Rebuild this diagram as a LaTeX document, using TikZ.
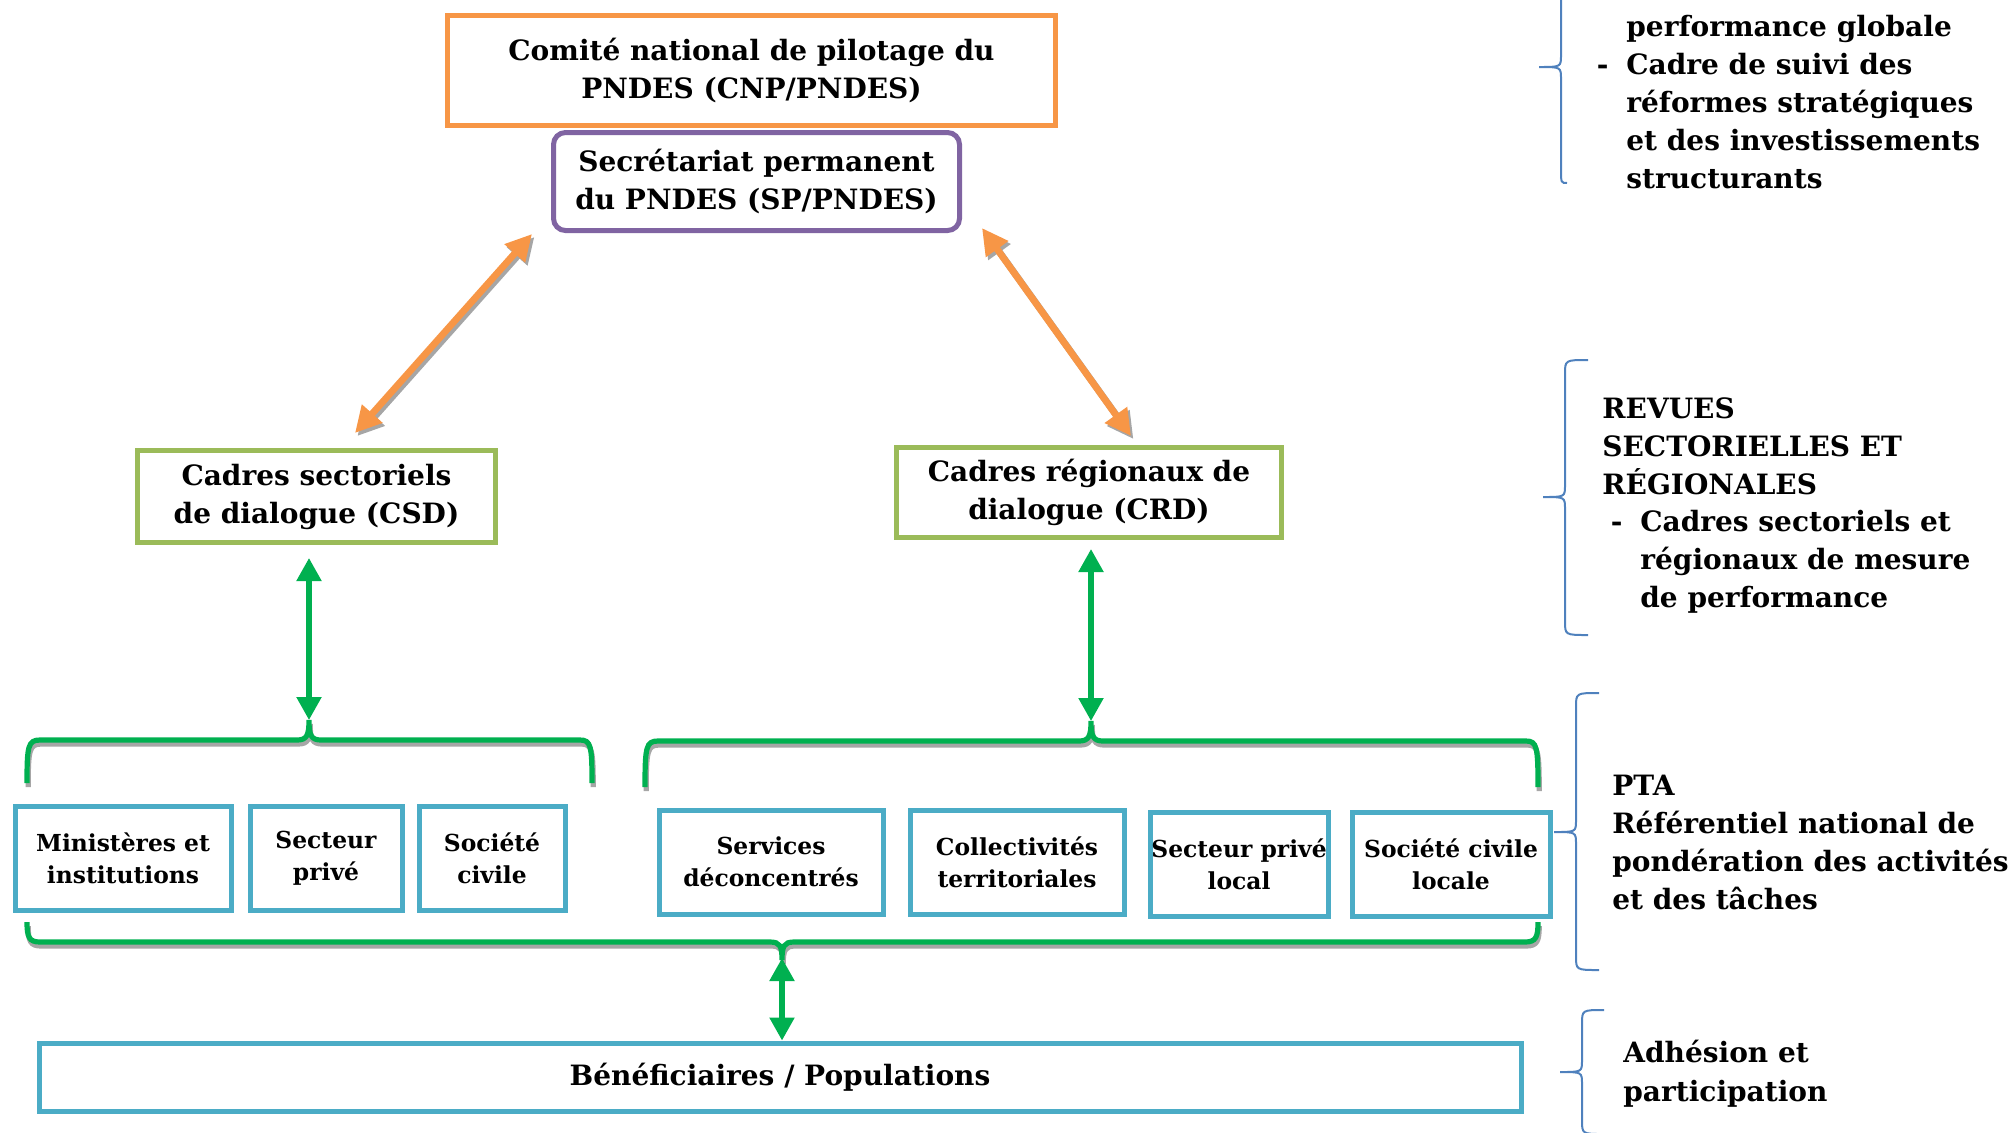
\documentclass[tikz,border=0pt]{standalone}
\usepackage{fontspec}
\setmainfont{DejaVu Serif}
\usetikzlibrary{arrows.meta,calc}
\definecolor{orng}{HTML}{F79646}
\definecolor{purp}{HTML}{8064A2}
\definecolor{lgrn}{HTML}{9BBB59}
\definecolor{bbox}{HTML}{4BACC6}
\definecolor{grn}{HTML}{00B050}
\definecolor{brc}{HTML}{4F81BD}
\definecolor{shd}{HTML}{A6A6A6}
\newcommand{\rbrc}[6]{%
  \draw[bluebrace] (#1,#4) .. controls (#2,#4) .. (#2,#4+14) -- (#2,#5-12)
    .. controls (#2,#5) .. (#3,#5) .. controls (#2,#5) .. (#2,#5+12)
    -- (#2,#6-14) .. controls (#2,#6) .. (#1,#6);}
\begin{document}
\begin{tikzpicture}[x=0.5pt,y=-0.5pt,
  box/.style={draw,line width=2.5pt,align=center,inner sep=0pt,
    font=\bfseries\fontsize{14}{19}\selectfont},
  smallbox/.style={box,draw=bbox,minimum height=52pt,
    font=\bfseries\fontsize{11.7}{16}\selectfont},
  rtext/.style={anchor=base west,inner sep=0pt,
    font=\bfseries\fontsize{14}{19}\selectfont},
  oarrow/.style={line width=3.4pt,orng,
    {Triangle[length=13pt,width=13pt]}-{Triangle[length=13pt,width=13pt]}},
  oshadow/.style={line width=3.4pt,shd,
    {Triangle[length=13pt,width=13pt]}-{Triangle[length=13pt,width=13pt]},
    transform canvas={shift={(1.2pt,-1.5pt)}}},
  garrow/.style={line width=2.6pt,grn,
    {Triangle[length=11.5pt,width=12pt]}-{Triangle[length=11.5pt,width=12pt]}},
  gbrace/.style={line width=2.6pt,grn,line cap=butt},
  gshadow/.style={line width=2.6pt,shd,transform canvas={shift={(0.6pt,-2pt)}}},
  bluebrace/.style={line width=1pt,brc}
]
\useasboundingbox (0,0) rectangle (2011,1132);

% top boxes
\node[box,draw=orng,minimum width=304pt,minimum height=55pt] (cnp) at (751.5,70.5)
  {Comité national de pilotage du\\PNDES (CNP/PNDES)};
\node[box,draw=purp,fill=white,rounded corners=6pt,minimum width=203pt,minimum height=49pt] (sp) at (756.5,181.5)
  {Secrétariat permanent\\du PNDES (SP/PNDES)};

\node[box,draw=lgrn,minimum width=179pt,minimum height=46pt] (csd) at (316.5,496.5)
  {Cadres sectoriels\\de dialogue (CSD)};
\node[box,draw=lgrn,minimum width=192.5pt,minimum height=45pt] (crd) at (1089,492.5)
  {Cadres régionaux de\\dialogue (CRD)};

% small boxes
\node[smallbox,minimum width=108pt] (min) at (123,858.5) {Ministères et\\institutions};
\node[smallbox,minimum width=76pt] (spr) at (326,858.5) {Secteur\\privé};
\node[smallbox,minimum width=73pt] (scv) at (492,858) {Société\\civile};
\node[smallbox,minimum width=112pt] (sdc) at (771,862) {Services\\déconcentrés};
\node[smallbox,minimum width=107pt] (ctr) at (1017,862.5) {Collectivités\\territoriales};
\node[smallbox,minimum width=89pt] (spl) at (1239,864) {Secteur privé\\local};
\node[smallbox,minimum width=99pt] (scl) at (1451,864) {Société civile\\locale};

\node[box,draw=bbox,minimum width=741pt,minimum height=34pt] (ben) at (780,1077)
  {Bénéficiaires / Populations};

% orange arrows
\coordinate (oL1) at (532,234);
\coordinate (oL2) at (355,433);
\coordinate (oR1) at (982,228);
\coordinate (oR2) at (1131,436);
\draw[oshadow] (oL1) -- (oL2);
\draw[oarrow] (oL1) -- (oL2);
\draw[oshadow] (oR1) -- (oR2);
\draw[oarrow] (oR1) -- (oR2);

% green braces
\coordinate (tipL) at (309,720);
\coordinate (tipR) at (1091,721);
\coordinate (tipB) at (782,958);
\foreach \s in {gshadow,gbrace}{
  \draw[\s] (27,783) .. controls (27,746) and (28,740) .. (40,740) -- (297,740)
    .. controls (307,740) and (309,735) .. (309,720)
    .. controls (309,735) and (311,740) .. (321,740) -- (580,740)
    .. controls (591,740) and (592,746) .. (592,783);
  \draw[\s] (645,787) .. controls (645,747) and (646,741) .. (658,741) -- (1079,741)
    .. controls (1089,741) and (1091,736) .. (1091,721)
    .. controls (1091,736) and (1093,741) .. (1103,741) -- (1526,741)
    .. controls (1537,741) and (1538,747) .. (1538,787);
  \draw[\s] (27,922) .. controls (27,937) and (29,942) .. (40,942) -- (770,942)
    .. controls (780,942) and (782,946) .. (782,960)
    .. controls (782,946) and (784,942) .. (794,942) -- (1525,942)
    .. controls (1536,942) and (1538,937) .. (1538,922);
}

% green arrows
\draw[garrow] ($(csd.south)+(-7.5,13)$) -- (tipL);
\draw[garrow] ($(crd.south)+(2,9)$) -- (tipR);
\draw[garrow] (tipB) -- (ben.north -| tipB);

% right blue braces
\rbrc{1567}{1561}{1539}{-49}{67}{183}
\rbrc{1588}{1565}{1543}{360}{497}{635}
\rbrc{1599}{1576}{1554}{693}{832}{970}
\rbrc{1604}{1582}{1560}{1010}{1072}{1134}

% right texts
\node[rtext] (a1) at (1626,36) {performance globale};
\node[rtext] (a2) at (1626,74) {\llap{-\hspace{9pt}}Cadre de suivi des};
\node[rtext] (a3) at (1626,112) {réformes stratégiques};
\node[rtext] (a4) at (1626,150) {et des investissements};
\node[rtext] (a5) at (1626,188) {structurants};

\node[rtext] (b1) at (1602,418) {REVUES};
\node[rtext] (b2) at (1602,456) {SECTORIELLES ET};
\node[rtext] (b3) at (1602,494) {RÉGIONALES};
\node[rtext] (b4) at (1640,531) {\llap{-\hspace{9pt}}Cadres sectoriels et};
\node[rtext] (b5) at (1640,569) {régionaux de mesure};
\node[rtext] (b6) at (1640,607) {de performance};

\node[rtext] (c1) at (1612,795) {PTA};
\node[rtext] (c2) at (1612,833) {Référentiel national de};
\node[rtext] (c3) at (1612,871) {pondération des activités};
\node[rtext] (c4) at (1612,909) {et des tâches};

\node[rtext] (d1) at (1623,1062) {Adhésion et};
\node[rtext] (d2) at (1623,1101) {participation};
\end{tikzpicture}
\end{document}
